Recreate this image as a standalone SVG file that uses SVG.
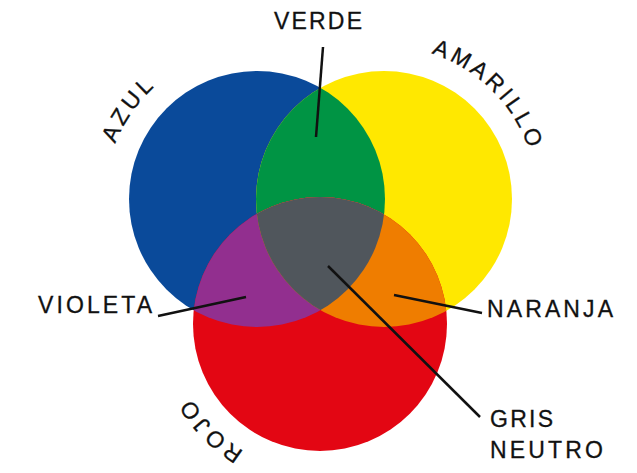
<svg xmlns="http://www.w3.org/2000/svg" xmlns:xlink="http://www.w3.org/1999/xlink" width="637" height="473" viewBox="0 0 637 473">
<style>
.lbl{font-family:"Liberation Sans",Arial,sans-serif;font-size:23px;fill:#111;stroke:#111;stroke-width:0.3;}
.arc{font-family:"Liberation Sans",Arial,sans-serif;font-size:23px;fill:#111;stroke:#111;stroke-width:0.3;letter-spacing:3.5px;}
.ldr{stroke:#111;stroke-width:2.5;fill:none;}
</style>
<defs>
<clipPath id="cBlue"><circle cx="257" cy="199" r="128"/></clipPath>
<clipPath id="cYellow"><circle cx="384" cy="199" r="128"/></clipPath>
<path id="pAzul" d="M105.6,212.3 A152,152 0 0 1 217.7,52.2"/>
<path id="pAmarillo" d="M344.4,51.2 A153,153 0 0 1 531.8,238.6"/>
<path id="pRojo" d="M269.4,463.1 A148,148 0 0 1 179.2,369.7"/>
</defs>
<g id="azul">
<circle cx="257" cy="199" r="128" fill="#0a4a9a"/>
<text class="arc" text-anchor="middle"><textPath href="#pAzul" startOffset="50%">AZUL</textPath></text>
</g>
<g id="amarillo">
<circle cx="384" cy="199" r="128" fill="#ffe800"/>
<text class="arc" text-anchor="middle"><textPath href="#pAmarillo" startOffset="50%">AMARILLO</textPath></text>
</g>
<g id="verde">
<g clip-path="url(#cBlue)"><circle cx="384" cy="199" r="128" fill="#009444"/></g>
<text class="lbl" x="274" y="29" textLength="88" lengthAdjust="spacing">VERDE</text>
</g>
<g id="rojo">
<circle cx="320" cy="324" r="127" fill="#e30613"/>
<text class="arc" text-anchor="middle"><textPath href="#pRojo" startOffset="50%">ROJO</textPath></text>
</g>
<g id="violeta">
<g clip-path="url(#cBlue)"><circle cx="320" cy="324" r="127" fill="#922f8f"/></g>
<text class="lbl" x="38" y="313" textLength="114" lengthAdjust="spacing">VIOLETA</text>
</g>
<g id="naranja">
<g clip-path="url(#cYellow)"><circle cx="320" cy="324" r="127" fill="#ef7d00"/></g>
<text class="lbl" x="487" y="317" textLength="126" lengthAdjust="spacing">NARANJA</text>
</g>
<g id="gris">
<g clip-path="url(#cBlue)"><g clip-path="url(#cYellow)"><circle cx="320" cy="324" r="127" fill="#50565c"/></g></g>
<text class="lbl" x="490" y="427" textLength="63" lengthAdjust="spacing">GRIS</text>
<text class="lbl" x="490" y="458" textLength="113" lengthAdjust="spacing">NEUTRO</text>
</g>
<g id="connectors">
<line class="ldr" x1="323" y1="47" x2="316" y2="137"/>
<line class="ldr" x1="158" y1="316" x2="246" y2="297"/>
<line class="ldr" x1="394" y1="295" x2="482" y2="313"/>
<line class="ldr" x1="328" y1="266" x2="480" y2="417"/>
</g>
</svg>
